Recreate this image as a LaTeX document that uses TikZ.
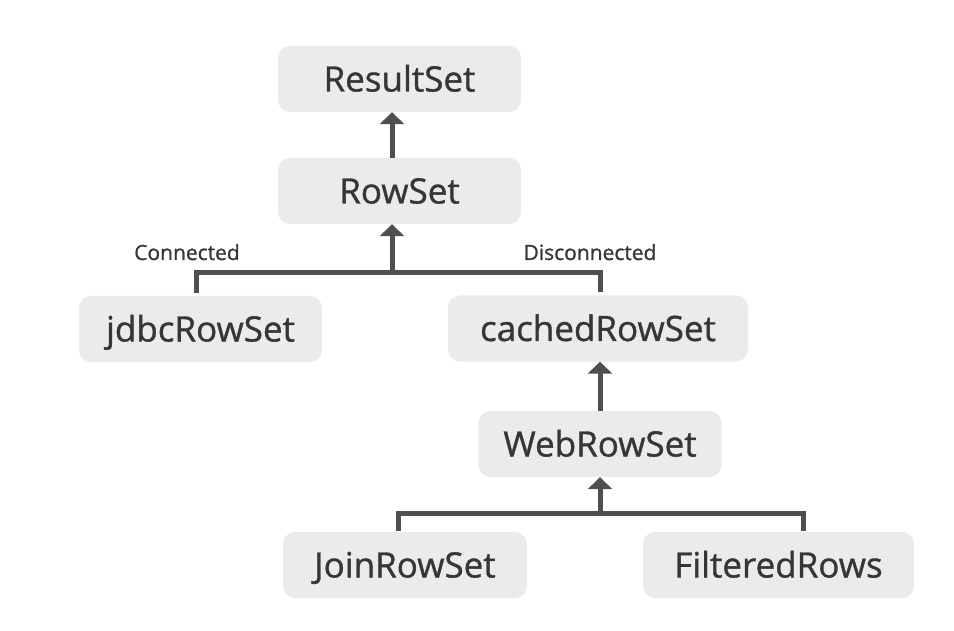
\documentclass[tikz,border=0pt]{standalone}
\usepackage{fontspec}
\setmainfont[FakeBold=1.0]{Open Sans}
\usetikzlibrary{arrows.meta}
\definecolor{boxfill}{HTML}{EBEBEB}
\definecolor{txt}{HTML}{363636}
\definecolor{ln}{HTML}{4F4F4F}
\begin{document}
\begin{tikzpicture}[x=1pt,y=-1pt,
  cls/.style={fill=boxfill, rounded corners=12pt, minimum height=66pt, minimum width=243pt,
    inner sep=0pt, text height=25pt, text depth=0pt,
    font=\fontsize{35}{40}\selectfont, text=txt},
  lbl/.style={font=\fontsize{21}{24}\selectfont, text=txt, inner sep=0pt,
    text height=15pt, text depth=0pt},
  conn/.style={draw=ln, line width=5pt, line join=miter},
  arr/.style={conn, -{Triangle[width=24pt,length=12pt]}}]
\useasboundingbox (0,0) rectangle (954,631);
\node[cls] (resultset) at (399.5,79) {ResultSet};
\node[cls] (rowset) at (399.5,191) {RowSet};
\node[cls] (jdbc) at (200.5,329) {jdbcRowSet};
\node[cls, minimum width=300pt] (cached) at (598,328.5) {cachedRowSet};
\node[cls] (web) at (600,444) {WebRowSet};
\node[cls, minimum width=244pt] (join) at (405,565) {JoinRowSet};
\node[cls, minimum width=271pt] (filtered) at (778.5,565) {FilteredRows};
\node[lbl] (lconn) at (187,252.5) {Connected};
\node[lbl] (ldisc) at (590,252.5) {Disconnected};
% upper connectors
\coordinate (b1) at (392,273);
\coordinate (b1l) at (196,273);
\coordinate (b1r) at (600,273);
\draw[arr] (rowset.north -| b1) -- (resultset.south -| b1);
\draw[arr] (b1) -- (rowset.south -| b1);
\draw[conn] ([yshift=3pt]jdbc.north -| b1l) -- (b1l) -- (b1r) -- ([yshift=3pt]cached.north -| b1r);
% lower connectors
\coordinate (b2) at (600,513);
\coordinate (b2l) at (398,513);
\coordinate (b2r) at (803,513);
\draw[arr] (web.north -| b2) -- (cached.south -| b2);
\draw[arr] (b2) -- (web.south -| b2);
\draw[conn] ([yshift=1pt]join.north -| b2l) -- (b2l) -- (b2r) -- ([yshift=1pt]filtered.north -| b2r);
\end{tikzpicture}
\end{document}
